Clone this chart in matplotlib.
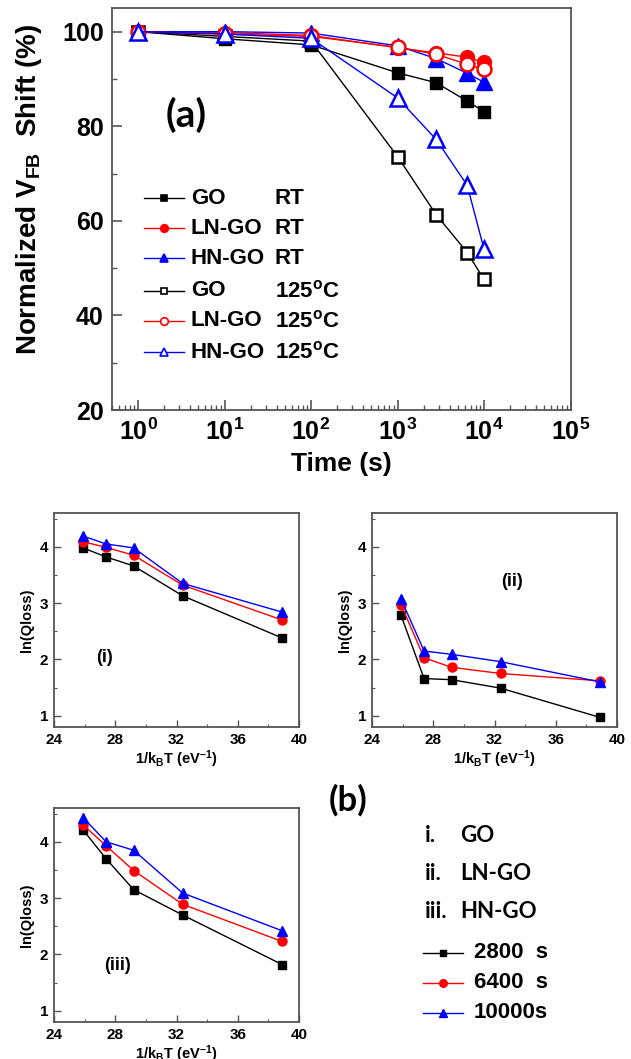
import matplotlib
matplotlib.use('Agg')
import matplotlib.pyplot as plt
import matplotlib.ticker as mticker
import math

plt.rcParams['font.family'] = ['Liberation Sans', 'DejaVu Sans']
plt.rcParams['font.weight'] = 'bold'
plt.rcParams['axes.labelweight'] = 'bold'
plt.rcParams['mathtext.fontset'] = 'custom'
plt.rcParams['mathtext.rm'] = 'Liberation Sans:bold'
plt.rcParams['mathtext.bf'] = 'Liberation Sans:bold'
plt.rcParams['mathtext.it'] = 'Liberation Sans:bold'
plt.rcParams['mathtext.sf'] = 'Liberation Sans:bold'
plt.rcParams['mathtext.default'] = 'bf'

# ---------------- data: panel (a) ----------------
time_s = [1, 10, 100, 1000, 2800, 6400, 10000]
go_rt = [100, 98.5, 97.2, 91.3, 89.2, 85.3, 83.1]
lngo_rt = [100, 99.8, 99.2, 96.6, 95.5, 94.6, 93.5]
hngo_rt = [100, 100, 99.7, 97.0, 94.3, 91.2, 89.3]
go_125 = [100, 99.0, 98.0, 73.6, 61.3, 53.3, 47.6]
lngo_125 = [100, 99.5, 99.0, 96.7, 95.2, 93.1, 92.0]
hngo_125 = [100, 99.5, 98.6, 86.0, 77.2, 67.5, 54.0]
series_a = [go_rt, lngo_rt, hngo_rt, go_125, lngo_125, hngo_125]
names_a = ['GO', 'LN-GO', 'HN-GO', 'GO', 'LN-GO', 'HN-GO']
conds_a = ['RT', 'RT', 'RT', '125$^{o}$C', '125$^{o}$C', '125$^{o}$C']
xticks_a = [1, 10, 100, 1000, 10000, 100000]
yticks_a = [20, 40, 60, 80, 100]

# ---------------- data: panel (b) ----------------
inv_kT = [25.9, 27.4, 29.2, 32.4, 38.9]
go_q2800 = [3.98, 3.82, 3.66, 3.13, 2.38]
go_q6400 = [4.09, 3.99, 3.85, 3.32, 2.70]
go_q10000 = [4.19, 4.05, 3.98, 3.35, 2.84]
lngo_q2800 = [2.78, 1.66, 1.64, 1.49, 0.97]
lngo_q6400 = [2.97, 2.03, 1.86, 1.75, 1.62]
lngo_q10000 = [3.07, 2.15, 2.09, 1.96, 1.60]
hngo_q2800 = [4.21, 3.70, 3.15, 2.70, 1.82]
hngo_q6400 = [4.30, 3.93, 3.49, 2.89, 2.23]
hngo_q10000 = [4.43, 4.00, 3.85, 3.09, 2.42]
panel_tags = ['(i)', '(ii)', '(iii)']
time_labels = ['2800  s', '6400  s', '10000s']
sample_num = ['i.', 'ii.', 'iii.']
sample_names = ['GO', 'LN-GO', 'HN-GO']
xticks_b = [24, 28, 32, 36, 40]
yticks_b = [1, 2, 3, 4]

W, H = 631, 1059
fig = plt.figure(figsize=(W / 100, H / 100), dpi=100)

colors = ['black', 'red', 'blue']
mk = ['s', 'o', '^']
ms_a = [9, 10, 11]
spine_c = '#555555'


def style_spines(ax):
    for s in ax.spines.values():
        s.set_color(spine_c)
        s.set_linewidth(1.3)


def pow10_fmt(v, pos):
    return r'$\mathbf{10^{%d}}$' % int(round(math.log10(v)))


# ---------------- panel (a) ----------------
ax = fig.add_axes([112 / W, 1 - 410 / H, (570.5 - 112) / W, (410 - 8) / H])
for i, vals in enumerate(series_a):
    c = colors[i % 3]
    m = mk[i % 3]
    is_open = i >= 3
    ax.plot(time_s, vals, color=c, lw=1.0, marker=m, ms=ms_a[i % 3],
            mfc='white' if is_open else c, mec=c, mew=1.8 if is_open else 1.0,
            zorder=3)
ax.set_xscale('log')
ax.set_xlim(0.5, 1e5)
ax.set_ylim(20, 105)
ax.set_xticks(xticks_a)
ax.xaxis.set_major_formatter(mticker.FuncFormatter(pow10_fmt))
ax.xaxis.set_minor_locator(mticker.LogLocator(base=10, subs=range(2, 10), numticks=20))
ax.xaxis.set_minor_formatter(mticker.NullFormatter())
ax.set_yticks(yticks_a)
ax.yaxis.set_minor_locator(mticker.MultipleLocator(10))
ax.tick_params(which='both', direction='in', top=False, right=False, color=spine_c)
ax.tick_params(which='major', length=7, width=1.2, labelsize=18, pad=6)
ax.tick_params(which='minor', length=3.5, width=1.0)
style_spines(ax)
ax.set_xlabel('Time (s)', fontsize=19, labelpad=5)
ax.set_ylabel('Normalized V$_{FB}$  Shift (%)', fontsize=20)
ax.yaxis.set_label_coords((44 - 112) / 458.5, 0.55)
ax.text(0.161, 0.734, '(a)', transform=ax.transAxes, fontsize=28,
        family=['Lato', 'DejaVu Sans'], fontweight='bold', ha='center', va='center')

# ---------------- panels (b) ----------------
panel_data = [
    (go_q2800, go_q6400, go_q10000),
    (lngo_q2800, lngo_q6400, lngo_q10000),
    (hngo_q2800, hngo_q6400, hngo_q10000),
]
panel_pos = [(54, 727), (372, 727), (54, 1022)]
tag_pos = [(0.208, 0.327), (0.57, 0.679), (0.26, 0.266)]
ms_b = [5.5, 6.5, 7]
for k, data in enumerate(panel_data):
    lx, by = panel_pos[k]
    tp = tag_pos[k]
    bx = fig.add_axes([lx / W, 1 - by / H, 245 / W, 214 / H])
    for j, vals in enumerate(data):
        bx.plot(inv_kT, vals, color=colors[j], lw=1.0, marker=mk[j], ms=ms_b[j],
                mfc=colors[j], mec=colors[j], zorder=3 + j)
    bx.set_xlim(24, 40)
    bx.set_ylim(0.8, 4.6)
    bx.set_xticks(xticks_b)
    bx.set_yticks(yticks_b)
    bx.xaxis.set_minor_locator(mticker.MultipleLocator(2))
    bx.yaxis.set_minor_locator(mticker.MultipleLocator(0.5))
    bx.tick_params(which='both', direction='in', top=False, right=False, color=spine_c)
    bx.tick_params(which='major', length=5, width=1.0, labelsize=11, pad=4)
    bx.tick_params(which='minor', length=2.5, width=0.8)
    style_spines(bx)
    bx.set_xlabel('1/k$_{B}$T (eV$^{-1}$)', fontsize=10.5, labelpad=1)
    bx.set_ylabel('ln(Qloss)', fontsize=10.5, labelpad=4)
    bx.text(tp[0], tp[1], panel_tags[k], transform=bx.transAxes, fontsize=13,
            ha='center', va='center')

# ---------------- overlay for legends / labels ----------------
lax = fig.add_axes([0, 0, 1, 1], facecolor='none')
lax.set_xlim(0, W)
lax.set_ylim(H, 0)
lax.axis('off')

row_y = [198, 228, 258, 291, 321, 352]
leg_ms = [4.5, 5.5, 6]
for i, y in enumerate(row_y):
    c = colors[i % 3]
    is_open = i >= 3
    lax.plot([144, 164, 184], [y, y, y], color=c, lw=1.0, marker=mk[i % 3],
             markevery=[1], ms=leg_ms[i % 3], mfc='white' if is_open else c,
             mec=c, mew=1.2)
    lax.text(191, y, names_a[i], fontsize=16, va='center', ha='left')
    lax.text(275, y, conds_a[i], fontsize=16, va='center', ha='left')

lax.text(348, 800, '(b)', fontsize=25, family=['Lato', 'DejaVu Sans'],
         fontweight='bold', ha='center', va='center')

samp_y = [835, 873, 911]
for i, y in enumerate(samp_y):
    lax.text(425, y, sample_num[i], fontsize=16, family=['Lato', 'DejaVu Sans'],
             fontweight='bold', va='center', ha='left')
    lax.text(460, y, sample_names[i], fontsize=16, family=['Lato', 'DejaVu Sans'],
             fontweight='bold', va='center', ha='left')

time_y = [953, 983, 1013]
for j, y in enumerate(time_y):
    lax.plot([423, 443, 463], [y, y, y], color=colors[j], lw=1.0, marker=mk[j],
             markevery=[1], ms=leg_ms[j], mfc=colors[j], mec=colors[j])
    lax.text(474, y, time_labels[j], fontsize=16, va='center', ha='left')

fig.savefig('out.png', dpi=100)
